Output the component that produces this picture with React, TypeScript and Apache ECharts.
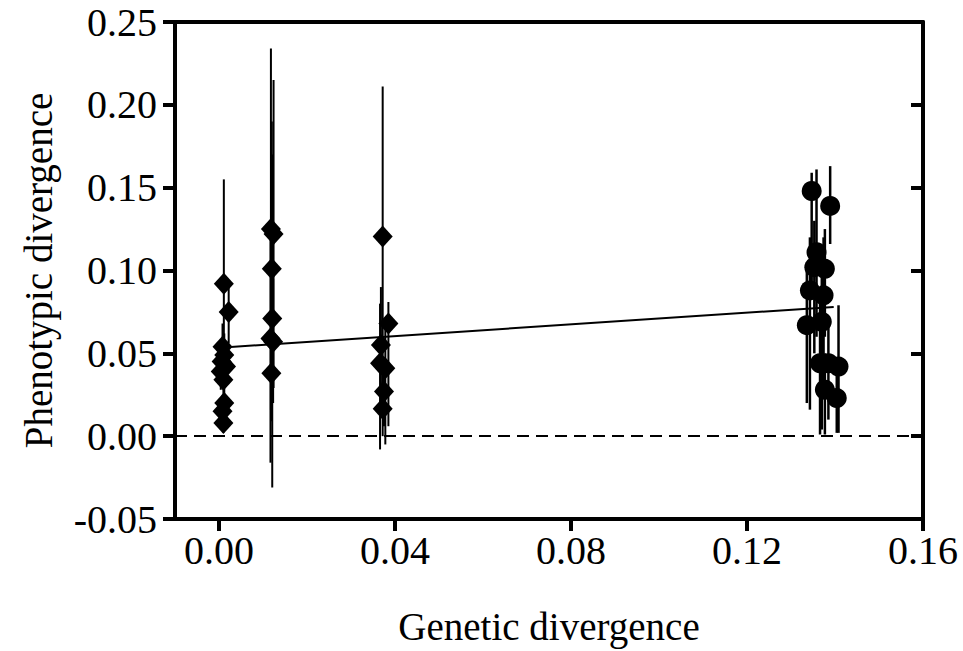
import React, { useEffect, useRef } from "react";
import * as echarts from "echarts";

// ---- Data ----
const xTicks = [0, 0.04, 0.08, 0.12, 0.16];
const yTicks = [-0.05, 0, 0.05, 0.1, 0.15, 0.2, 0.25];

// Diamonds (three clusters near 0.001, 0.012, 0.037)
const diamondX = [
  0.0011, 0.0022, 0.0008, 0.0012, 0.0006, 0.0016, 0.0004, 0.001, 0.0012, 0.0008, 0.001,
  0.0118, 0.0124, 0.012, 0.0121, 0.0117, 0.0123, 0.0119,
  0.0372, 0.0385, 0.0368, 0.0366, 0.0378, 0.0375, 0.0372,
];
const diamondY = [
  0.092, 0.075, 0.054, 0.049, 0.045, 0.042, 0.039, 0.034, 0.02, 0.015, 0.008,
  0.125, 0.122, 0.101, 0.071, 0.059, 0.057, 0.038,
  0.1205, 0.068, 0.055, 0.044, 0.041, 0.027, 0.0165,
];
const diamondLow = [
  0.029, 0.056, 0.04, 0.036, 0.032, 0.03, 0.028, 0.022, 0.01, 0.006, 0.002,
  0.016, 0.029, 0.009, -0.031, -0.016, 0.02, 0.012,
  0.03, 0.006, 0.02, -0.008, -0.005, 0.006, 0.0,
];
const diamondHigh = [
  0.155, 0.09, 0.068, 0.062, 0.058, 0.055, 0.05, 0.046, 0.03, 0.025, 0.014,
  0.234, 0.215, 0.19, 0.17, 0.13, 0.095, 0.065,
  0.211, 0.081, 0.09, 0.08, 0.07, 0.048, 0.033,
];

// Circles (cluster near 0.137)
const circleX = [
  0.1347, 0.1389, 0.1358, 0.1353, 0.1377, 0.1343, 0.1374, 0.1336, 0.137, 0.1366, 0.1385, 0.1408, 0.1377, 0.1404,
];
const circleY = [
  0.148, 0.139, 0.111, 0.102, 0.101, 0.088, 0.085, 0.067, 0.069, 0.044, 0.044, 0.042, 0.028, 0.023,
];
const circleLow = [
  0.09, 0.116, 0.06, 0.05, 0.06, 0.016, 0.03, 0.02, 0.004, 0.001, 0.01, 0.002, 0.001, 0.002,
];
const circleHigh = [
  0.159, 0.163, 0.161, 0.13, 0.125, 0.12, 0.12, 0.1, 0.11, 0.08, 0.07, 0.079, 0.05, 0.045,
];

// Regression line endpoints
const fitX = [0.001, 0.1397];
const fitY = [0.0535, 0.078];

const FONT = "Liberation Serif";
const BLACK = "#000";

export default function App() {
  const ref = useRef<HTMLDivElement>(null);

  useEffect(() => {
    if (!ref.current) return;
    const chart = echarts.init(ref.current, null, { renderer: "svg" });

    const diamondErr = diamondX.map((x, i) => [x, diamondLow[i], diamondHigh[i]]);
    const circleErr = circleX.map((x, i) => [x, circleLow[i], circleHigh[i]]);
    const diamondData = diamondX.map((x, i) => [x, diamondY[i]]);
    const circleData = circleX.map((x, i) => [x, circleY[i]]);
    const fitData = fitX.map((x, i) => [x, fitY[i]]);

    const axisLine = { show: true, onZero: false, lineStyle: { color: BLACK, width: 4 } };
    const tickStyle = { fontFamily: FONT, fontSize: 40, color: BLACK };
    const titleStyle = { fontFamily: FONT, fontSize: 39, color: BLACK };

    const errSeries = (data: number[][], width: number) => ({
      type: "custom",
      data,
      encode: { x: 0, y: [1, 2] },
      z: 2,
      renderItem: (_params: any, api: any) => {
        const p1 = api.coord([api.value(0), api.value(1)]);
        const p2 = api.coord([api.value(0), api.value(2)]);
        return {
          type: "line",
          shape: { x1: p1[0], y1: p1[1], x2: p2[0], y2: p2[1] },
          style: { stroke: BLACK, lineWidth: width },
        };
      },
    });

    const option: any = {
      animation: false,
      backgroundColor: "#fff",
      grid: { left: 175, right: 40, top: 22, bottom: 132 },
      xAxis: [
        {
          type: "value",
          min: -0.01,
          max: 0.16,
          position: "bottom",
          axisLine,
          axisTick: {
            show: true,
            length: 12,
            customValues: xTicks,
            lineStyle: { color: BLACK, width: 4 },
          },
          axisLabel: {
            ...tickStyle,
            customValues: xTicks,
            margin: 11,
            formatter: (v: number) => v.toFixed(2),
          },
          splitLine: { show: false },
          name: "Genetic divergence",
          nameLocation: "middle",
          nameGap: 88,
          nameTextStyle: titleStyle,
        },
        {
          type: "value",
          min: -0.01,
          max: 0.16,
          position: "top",
          axisLine,
          axisTick: { show: false },
          axisLabel: { show: false },
          splitLine: { show: false },
        },
      ],
      yAxis: [
        {
          type: "value",
          min: -0.05,
          max: 0.25,
          interval: 0.05,
          position: "left",
          axisLine,
          axisTick: { show: true, length: 12, lineStyle: { color: BLACK, width: 4 } },
          axisLabel: {
            ...tickStyle,
            margin: 18,
            customValues: yTicks,
            formatter: (v: number) => v.toFixed(2),
          },
          splitLine: { show: false },
          name: "Phenotypic divergence",
          nameLocation: "middle",
          nameGap: 117,
          nameTextStyle: titleStyle,
        },
        {
          type: "value",
          min: -0.05,
          max: 0.25,
          interval: 0.05,
          position: "right",
          axisLine,
          axisTick: { show: true, inside: true, length: 12, lineStyle: { color: BLACK, width: 4 } },
          axisLabel: { show: false },
          splitLine: { show: false },
        },
      ],
      series: [
        {
          type: "line",
          data: fitData,
          symbol: "none",
          lineStyle: { color: BLACK, width: 2 },
          z: 1,
          markLine: {
            silent: true,
            symbol: ["none", "none"],
            label: { show: false },
            lineStyle: { color: BLACK, width: 2, type: [12, 7] },
            data: [{ yAxis: 0 }],
          },
        },
        errSeries(diamondErr, 2),
        errSeries(circleErr, 2.5),
        {
          type: "scatter",
          data: diamondData,
          symbol: "diamond",
          symbolSize: [20, 22],
          itemStyle: { color: BLACK, opacity: 1 },
          z: 3,
        },
        {
          type: "scatter",
          data: circleData,
          symbol: "circle",
          symbolSize: 20,
          itemStyle: { color: BLACK, opacity: 1 },
          z: 3,
        },
      ],
    };

    chart.setOption(option);
    return () => chart.dispose();
  }, []);

  return (
    <div
      ref={ref}
      style={{ position: "fixed", left: 0, top: 0, width: 963, height: 651, background: "#fff" }}
    />
  );
}
